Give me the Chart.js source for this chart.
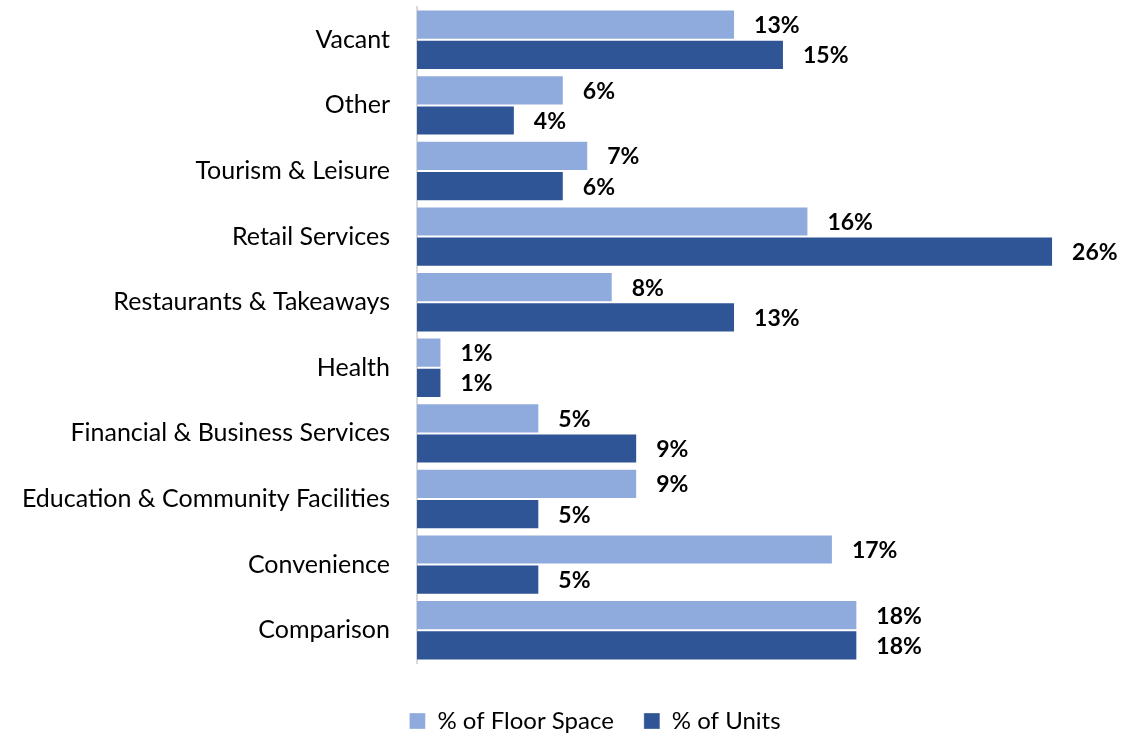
<!DOCTYPE html>
<html>
<head>
<meta charset="utf-8">
<script src="https://cdn.jsdelivr.net/npm/chart.js@4"></script>
<style>
  html, body { margin: 0; padding: 0; background: #fff; }
  #wrap { width: 1124px; height: 737px; }
</style>
</head>
<body>
<div id="wrap"><canvas id="myChart" width="1124" height="737"></canvas></div>
<script>
const categories = [
  "Vacant",
  "Other",
  "Tourism & Leisure",
  "Retail Services",
  "Restaurants & Takeaways",
  "Health",
  "Financial & Business Services",
  "Education & Community Facilities",
  "Convenience",
  "Comparison",
];
const floorSpace = [13, 6, 7, 16, 8, 1, 5, 9, 17, 18];
const units = [15, 4, 6, 26, 13, 1, 9, 5, 5, 18];
const seriesNames = ["% of Floor Space", "% of Units"];

const FONT = "Lato, Calibri, 'Open Sans', sans-serif";

// draws the "13%" labels just past the end of each bar
const barLabels = {
  id: "barLabels",
  afterDatasetsDraw(chart) {
    const ctx = chart.ctx;
    ctx.save();
    ctx.font = "bold 23px " + FONT;
    ctx.fillStyle = "#000";
    ctx.textAlign = "left";
    ctx.textBaseline = "middle";
    chart.data.datasets.forEach((ds, i) => {
      chart.getDatasetMeta(i).data.forEach((bar, j) => {
        ctx.fillText(ds.data[j] + "%", bar.x + 19, bar.y + 1);
      });
    });
    ctx.restore();
  },
};

// legend in the original sits a bit right of centre and lower down
const shiftLegend = {
  id: "shiftLegend",
  afterLayout(chart) {
    const lg = chart.legend;
    lg.left += 44;
    lg.right += 44;
    lg.top += 16;
    lg.bottom += 16;
  },
};

const ctx = document.getElementById("myChart").getContext("2d");
new Chart(ctx, {
  type: "bar",
  data: {
    labels: categories,
    datasets: [
      {
        label: seriesNames[0],
        data: floorSpace,
        backgroundColor: "#8faadc",
        borderColor: "rgba(255,255,255,0.35)",
        borderWidth: 1,
      },
      {
        label: seriesNames[1],
        data: units,
        backgroundColor: "#2f5597",
        borderColor: "rgba(255,255,255,0.3)",
        borderWidth: 1,
      },
    ],
  },
  options: {
    indexAxis: "y",
    responsive: false,
    animation: false,
    layout: {
      padding: { left: 0, right: 22, top: 7, bottom: 10 },
    },
    datasets: {
      bar: { categoryPercentage: 0.92, barPercentage: 1 },
    },
    scales: {
      x: {
        display: false,
        min: 0,
        max: 28,
      },
      y: {
        grid: { display: false },
        border: { display: true, color: "#d9d9d9", width: 2 },
        ticks: {
          color: "#000",
          padding: 19,
          font: { family: FONT, size: 25 },
        },
        afterFit(scale) {
          scale.width = 417;
          scale.paddingTop = 0;
          scale.paddingBottom = 0;
        },
      },
    },
    plugins: {
      legend: {
        position: "bottom",
        labels: {
          color: "#000",
          boxWidth: 16,
          boxHeight: 16,
          padding: 30,
          font: { family: FONT, size: 24 },
        },
      },
      tooltip: { enabled: false },
    },
  },
  plugins: [barLabels, shiftLegend],
});
</script>
</body>
</html>
